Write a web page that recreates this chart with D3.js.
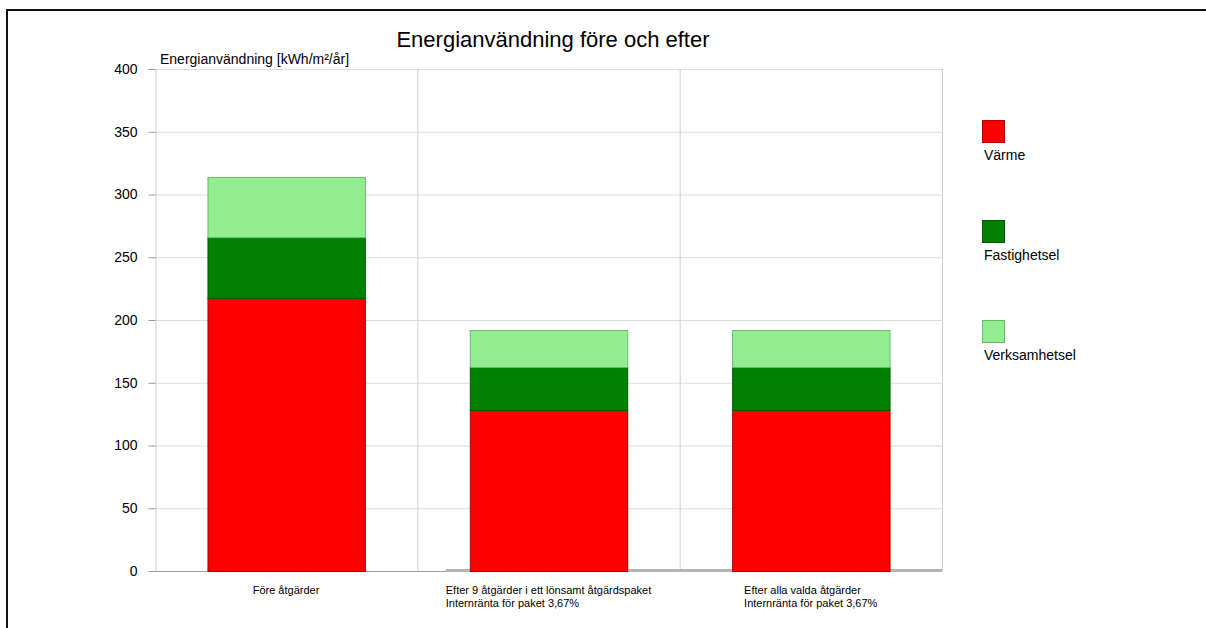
<!DOCTYPE html>
<html>
<head>
<meta charset="utf-8">
<script src="https://cdn.jsdelivr.net/npm/d3@7"></script>
<style>
  body { margin: 0; background: #fff; }
  text { font-family: Arial, "Liberation Sans", sans-serif; fill: #000; }
</style>
</head>
<body>
<div id="chart"></div>
<script>
// Data
const categories = [
  ["Före åtgärder"],
  ["Efter 9 åtgärder i ett lönsamt åtgärdspaket", "Internränta för paket 3,67%"],
  ["Efter alla valda åtgärder", "Internränta för paket 3,67%"]
];
const seriesNames = ["Värme", "Fastighetsel", "Verksamhetsel"];
const varme = [217.5, 128.3, 128.3];
const fastighetsel = [48.5, 34.2, 34.2];
const verksamhetsel = [48, 29.5, 29.5];
const yTicks = [0, 50, 100, 150, 200, 250, 300, 350, 400];

const colors = ["#ff0000", "#008000", "#90ee90"];
const strokes = ["#b30000", "#005a00", "#6bb86b"];

const width = 1206, height = 628;
const margin = { left: 155, right: 264, top: 69, bottom: 57 };

const svg = d3.select("#chart")
  .append("svg")
  .attr("width", width)
  .attr("height", height);

// outer frame (only top and left visible)
svg.append("line").attr("x1", 7).attr("x2", width).attr("y1", 10).attr("y2", 10)
  .attr("stroke", "#111").attr("stroke-width", 2);
svg.append("line").attr("x1", 7).attr("x2", 7).attr("y1", 9).attr("y2", height)
  .attr("stroke", "#111").attr("stroke-width", 2);

const x = d3.scaleBand()
  .domain(d3.range(categories.length))
  .range([margin.left, width - margin.right])
  .paddingInner(0)
  .paddingOuter(0);

const y = d3.scaleLinear()
  .domain([0, 400])
  .range([height - margin.bottom, margin.top]);

// Horizontal grid
svg.append("g")
  .selectAll("line")
  .data(yTicks.slice(1))
  .enter()
  .append("line")
  .attr("x1", margin.left)
  .attr("x2", width - margin.right)
  .attr("y1", d => y(d) + 0.5)
  .attr("y2", d => y(d) + 0.5)
  .attr("stroke", "#dcdcdc");

// Vertical separators between categories
svg.append("g")
  .selectAll("line")
  .data(d3.range(1, categories.length + 1))
  .enter()
  .append("line")
  .attr("x1", d => x.step() * d + margin.left + 0.5)
  .attr("x2", d => x.step() * d + margin.left + 0.5)
  .attr("y1", y(400))
  .attr("y2", y(0))
  .attr("stroke", "#cfcfcf");

// Y axis
const yAxis = svg.append("g")
  .attr("transform", "translate(" + (margin.left + 0.5) + ",0)")
  .call(d3.axisLeft(y).tickValues(yTicks).tickSize(7).tickPadding(11));
yAxis.select(".domain").attr("stroke", "#cfcfcf");
yAxis.selectAll(".tick line").attr("stroke", "#999");
yAxis.selectAll(".tick text")
  .style("font-size", "14px")
  .style("font-family", "Arial, 'Liberation Sans', sans-serif")
  .attr("fill", "#000");

// baseline
svg.append("line")
  .attr("x1", margin.left).attr("x2", width - margin.right)
  .attr("y1", y(0) + 0.5).attr("y2", y(0) + 0.5)
  .attr("stroke", "#999");

const barW = x.bandwidth() * 0.6;

// small gray strip near zero under categories 2 and 3
svg.append("rect")
  .attr("x", x(1) + (x.bandwidth() - barW) / 2 - 24)
  .attr("y", y(0) - 2)
  .attr("width", width - margin.right - (x(1) + (x.bandwidth() - barW) / 2 - 24))
  .attr("height", 3)
  .attr("fill", "#b4b4b4");

// Stack
const rows = categories.map((c, i) => ({
  i: i,
  "Värme": varme[i],
  "Fastighetsel": fastighetsel[i],
  "Verksamhetsel": verksamhetsel[i]
}));
const stacked = d3.stack().keys(seriesNames)(rows);

svg.append("g")
  .selectAll("g")
  .data(stacked)
  .enter()
  .append("g")
  .attr("fill", (d, k) => colors[k])
  .attr("stroke", (d, k) => strokes[k])
  .selectAll("rect")
  .data(d => d)
  .enter()
  .append("rect")
  .attr("x", d => x(d.data.i) + (x.bandwidth() - barW) / 2 + 0.5)
  .attr("y", d => y(d[1]) + 0.5)
  .attr("width", barW)
  .attr("height", d => y(d[0]) - y(d[1]));

// Category labels
categories.forEach((lines, i) => {
  const g = svg.append("g");
  const t = g.append("text").style("font-size", "11px");
  lines.forEach((l, j) => {
    t.append("tspan").attr("x", 0).attr("y", 594 + j * 13).text(l);
  });
  const w = t.node().getBBox().width;
  g.attr("transform", "translate(" + (x(i) + x.bandwidth() / 2 - w / 2) + ",0)");
});

// Titles
svg.append("text")
  .attr("x", 553)
  .attr("y", 47)
  .attr("text-anchor", "middle")
  .style("font-size", "22px")
  .text("Energianvändning före och efter");

svg.append("text")
  .attr("x", 160)
  .attr("y", 64)
  .style("font-size", "14px")
  .text("Energianvändning [kWh/m²/år]");

// Legend
const legend = svg.append("g")
  .selectAll("g")
  .data(seriesNames)
  .enter()
  .append("g")
  .attr("transform", (d, k) => "translate(982," + (120 + k * 100) + ")");
legend.append("rect")
  .attr("x", 0.5).attr("y", 0.5)
  .attr("width", 22).attr("height", 22)
  .attr("fill", (d, k) => colors[k])
  .attr("stroke", (d, k) => strokes[k]);
legend.append("text")
  .attr("x", 2)
  .attr("y", 40)
  .style("font-size", "14px")
  .text(d => d);
</script>
</body>
</html>
